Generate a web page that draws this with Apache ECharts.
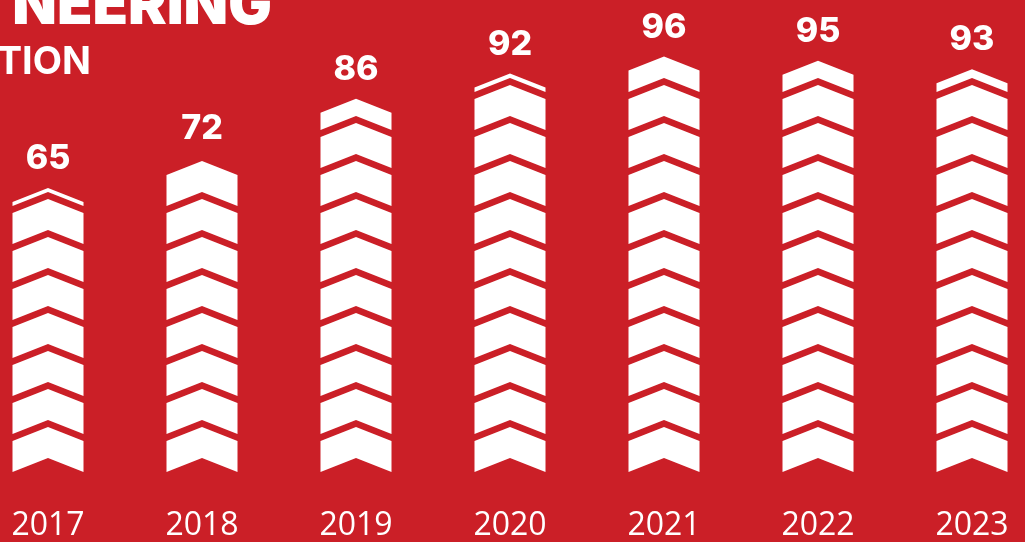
<!DOCTYPE html>
<html>
<head>
<meta charset="utf-8">
<script src="https://cdn.jsdelivr.net/npm/echarts@6/dist/echarts.min.js"></script>
<style>
  html, body { margin: 0; padding: 0; background: #cb1f27; }
  #chart { width: 1025px; height: 542px; }
</style>
</head>
<body>
<div id="chart"></div>
<script>
// data
const years = ['2017', '2018', '2019', '2020', '2021', '2022', '2023']
const scores = [65, 72, 86, 92, 96, 95, 93]
const titleLines = ['NEERING', 'TION']

const RED = '#cb1f27'
const WHITE = '#ffffff'
const Y_MIN = -2 // columns start a little below zero in the original
const Y_MAX = 100

// chevron geometry (px)
const BAR_W = 71
const PEAK = 14 // height of the ^ point
const STEP = 38 // one chevron + gap
const THICK = 31

function renderChevrons(params, api) {
  const idx = api.value(0)
  const val = api.value(1)
  const top = api.coord([idx, val])
  const base = api.coord([idx, Y_MIN])
  const cx = top[0]
  const x0 = cx - BAR_W / 2
  const x1 = cx + BAR_W / 2
  // the column top is a ^ with its point on the value
  const capSide = top[1] + PEAK
  const children = []
  for (let k = 0; k < 40; k++) {
    const bottom = base[1] - k * STEP
    const upper = Math.max(bottom - THICK, capSide)
    if (upper >= bottom) break
    children.push({
      type: 'polygon',
      shape: {
        points: [
          [x0, bottom], [cx, bottom - PEAK], [x1, bottom],
          [x1, upper], [cx, upper - PEAK], [x0, upper]
        ]
      },
      style: { fill: WHITE }
    })
  }
  children.push({
    type: 'text',
    style: {
      text: String(val),
      x: cx,
      y: top[1] - 29,
      align: 'center',
      verticalAlign: 'middle',
      fill: WHITE,
      fontSize: 34,
      fontWeight: 800,
      fontFamily: 'Inter'
    }
  })
  return { type: 'group', children }
}

const chart = echarts.init(document.getElementById('chart'))
chart.setOption({
  backgroundColor: RED,
  animation: false,
  grid: { left: 48, right: 53, top: 39.5, bottom: 67 },
  xAxis: {
    type: 'category',
    data: years,
    boundaryGap: false,
    axisLine: { show: false },
    axisTick: { show: false },
    splitLine: { show: false },
    axisLabel: {
      interval: 0,
      margin: 38,
      color: WHITE,
      fontSize: 32,
      fontFamily: 'Open Sans',
      fontWeight: 400
    }
  },
  yAxis: {
    type: 'value',
    min: Y_MIN,
    max: Y_MAX,
    show: false
  },
  graphic: [
    {
      type: 'text',
      right: 1025 - 272,
      top: -22,
      style: {
        text: titleLines[0],
        fill: WHITE,
        fontSize: 58,
        fontWeight: 900,
        fontFamily: 'Inter'
      }
    },
    {
      type: 'text',
      right: 1025 - 91,
      top: 44,
      style: {
        text: titleLines[1],
        fill: WHITE,
        fontSize: 38,
        fontWeight: 700,
        fontFamily: 'Inter'
      }
    }
  ],
  series: [
    {
      type: 'custom',
      renderItem: renderChevrons,
      data: scores.map((v, i) => [i, v]),
      clip: false
    }
  ]
})
</script>
</body>
</html>
